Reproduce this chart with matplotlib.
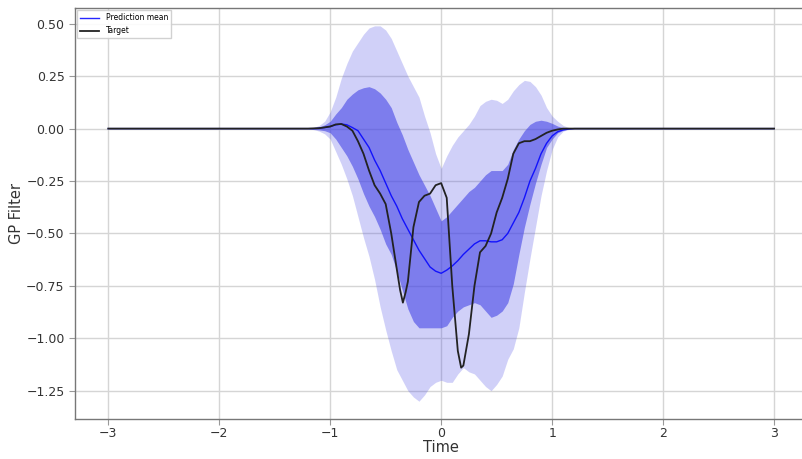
import matplotlib
matplotlib.use("Agg")
import matplotlib.pyplot as plt
import numpy as np

# time grid shared by the mean and both uncertainty bands
time = [-3.0, -1.20, -1.15, -1.10, -1.05, -1.00, -0.95, -0.90, -0.85, -0.80, -0.75,
        -0.70, -0.65, -0.60, -0.55, -0.50, -0.45, -0.40, -0.35, -0.30, -0.25,
        -0.20, -0.15, -0.10, -0.05, 0.00, 0.05, 0.10, 0.15, 0.20, 0.25,
        0.30, 0.35, 0.40, 0.45, 0.50, 0.55, 0.60, 0.65, 0.70, 0.75,
        0.80, 0.85, 0.90, 0.95, 1.00, 1.05, 1.10, 1.15, 1.20, 3.0]

pred_mean = [0.0, 0.0, 0.0, 0.002, 0.005, 0.01, 0.018, 0.022, 0.018, 0.005, -0.01,
             -0.05, -0.09, -0.15, -0.20, -0.26, -0.32, -0.37, -0.43, -0.48, -0.53,
             -0.58, -0.62, -0.66, -0.68, -0.69, -0.675, -0.655, -0.63, -0.60, -0.575,
             -0.55, -0.535, -0.535, -0.54, -0.54, -0.53, -0.50, -0.45, -0.40, -0.33,
             -0.25, -0.19, -0.12, -0.07, -0.035, -0.015, -0.006, -0.002, 0.0, 0.0]

# +/- 1 sigma band
inner_upper = [0.0, 0.0, 0.003, 0.008, 0.018, 0.035, 0.07, 0.10, 0.14, 0.165, 0.185,
               0.195, 0.20, 0.19, 0.17, 0.14, 0.10, 0.03, -0.03, -0.10, -0.16,
               -0.22, -0.27, -0.32, -0.38, -0.44, -0.42, -0.39, -0.36, -0.33, -0.30,
               -0.28, -0.25, -0.22, -0.20, -0.20, -0.20, -0.17, -0.10, -0.05, -0.01,
               0.02, 0.035, 0.04, 0.035, 0.025, 0.012, 0.005, 0.001, 0.0, 0.0]
inner_lower = [0.0, 0.0, -0.003, -0.006, -0.01, -0.02, -0.05, -0.09, -0.13, -0.18, -0.24,
               -0.31, -0.37, -0.42, -0.48, -0.55, -0.60, -0.68, -0.77, -0.86, -0.92,
               -0.95, -0.95, -0.95, -0.95, -0.95, -0.94, -0.90, -0.87, -0.85, -0.84,
               -0.83, -0.84, -0.87, -0.90, -0.89, -0.87, -0.83, -0.74, -0.60, -0.47,
               -0.36, -0.26, -0.17, -0.09, -0.05, -0.02, -0.008, -0.002, 0.0, 0.0]

# +/- 2 sigma band
outer_upper = [0.0, 0.0, 0.005, 0.015, 0.035, 0.08, 0.15, 0.24, 0.31, 0.37, 0.41,
               0.45, 0.48, 0.49, 0.49, 0.47, 0.43, 0.37, 0.31, 0.25, 0.20,
               0.15, 0.06, -0.02, -0.12, -0.19, -0.13, -0.08, -0.04, -0.01, 0.02,
               0.06, 0.11, 0.13, 0.14, 0.135, 0.12, 0.14, 0.18, 0.21, 0.23,
               0.225, 0.20, 0.16, 0.10, 0.06, 0.035, 0.015, 0.005, 0.0, 0.0]
outer_lower = [0.0, 0.0, -0.005, -0.012, -0.025, -0.05, -0.11, -0.17, -0.24, -0.32, -0.42,
               -0.52, -0.61, -0.72, -0.85, -0.96, -1.06, -1.15, -1.20, -1.25, -1.28,
               -1.30, -1.27, -1.23, -1.21, -1.20, -1.21, -1.21, -1.17, -1.14, -1.16,
               -1.17, -1.20, -1.23, -1.25, -1.22, -1.18, -1.10, -1.05, -0.95, -0.78,
               -0.62, -0.47, -0.32, -0.20, -0.10, -0.04, -0.012, -0.004, 0.0, 0.0]

# target filter has its own (denser near the dips) time points
target_time = [-3.0, -1.20, -1.10, -1.00, -0.95, -0.90, -0.85, -0.80, -0.75, -0.70, -0.65,
               -0.60, -0.55, -0.50, -0.45, -0.40, -0.37, -0.345, -0.32, -0.30, -0.25,
               -0.20, -0.15, -0.10, -0.05, 0.00, 0.05, 0.10, 0.15, 0.18, 0.20,
               0.25, 0.30, 0.35, 0.40, 0.45, 0.50, 0.55, 0.60, 0.65, 0.70,
               0.75, 0.80, 0.85, 0.90, 0.95, 1.00, 1.05, 1.10, 1.20, 3.0]
target = [0.0, 0.0, 0.002, 0.01, 0.02, 0.022, 0.01, -0.01, -0.06, -0.12, -0.20,
          -0.27, -0.31, -0.36, -0.50, -0.67, -0.77, -0.83, -0.78, -0.73, -0.47,
          -0.35, -0.32, -0.31, -0.27, -0.26, -0.33, -0.75, -1.06, -1.14, -1.13,
          -0.98, -0.75, -0.59, -0.56, -0.50, -0.40, -0.33, -0.24, -0.12, -0.07,
          -0.06, -0.06, -0.05, -0.035, -0.02, -0.01, -0.004, 0.0, 0.0, 0.0]

fig = plt.figure(figsize=(8.03, 4.59), dpi=100)
ax = fig.add_axes([0.0934, 0.0871, 0.912, 0.8954])

ax.grid(True, color="#d5d5d5", linewidth=1.0)
ax.set_axisbelow(True)

band_color = "#4646e6"
ax.fill_between(time, outer_lower, outer_upper, color=band_color, alpha=0.25, linewidth=0)
ax.fill_between(time, inner_lower, inner_upper, color=band_color, alpha=0.6, linewidth=0)
ax.plot(time, pred_mean, color="blue", linewidth=1.0, alpha=0.85, label="Prediction mean")
ax.plot(target_time, target, color="#222222", linewidth=1.3, label="Target")

ax.set_xlim(-3.3, 3.3)
ax.set_ylim(-1.385, 0.575)
ax.set_xticks([-3, -2, -1, 0, 1, 2, 3])
ax.set_yticks([0.5, 0.25, 0.0, -0.25, -0.5, -0.75, -1.0, -1.25])

for side in ["left", "bottom", "top", "right"]:
    ax.spines[side].set_color("#777777")
    ax.spines[side].set_linewidth(1.0)
ax.tick_params(labelcolor="#333333", labelsize=9, length=4, width=0.8, color="#999999")
ax.tick_params(axis="x", pad=2)

ax.set_xlabel("Time", fontsize=10.5, color="#333333")
ax.set_ylabel("GP Filter", fontsize=10.5, color="#333333")
ax.xaxis.set_label_coords(0.5, -0.05)
ax.yaxis.set_label_coords(-0.07, 0.5)

ax.legend(loc="upper left", fontsize=5.5, frameon=True, framealpha=0.9,
          edgecolor="#cccccc", borderaxespad=0.3, handlelength=2.5,
          fancybox=False)

fig.savefig("out.png", dpi=100)
